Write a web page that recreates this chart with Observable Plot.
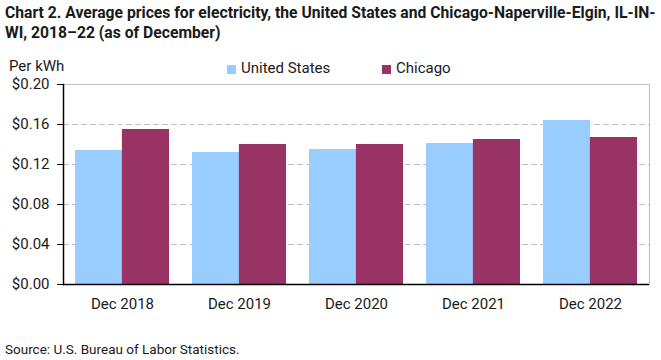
<!DOCTYPE html>
<html>
<head>
<meta charset="utf-8">
<script src="https://cdn.jsdelivr.net/npm/d3@7"></script>
<script src="https://cdn.jsdelivr.net/npm/@observablehq/plot@0.6"></script>
<style>
  body { margin: 0; background: #fff; font-family: Roboto, "Liberation Sans", sans-serif; color: #1a1a1a; }
  #wrap { position: relative; width: 661px; height: 360px; }
  #title { position: absolute; left: 5px; top: 3px; font-weight: bold; font-size: 15.7px; line-height: 20px; white-space: nowrap; }
  #unit { position: absolute; left: 9px; top: 57px; font-size: 15px; }
  .lg { position: absolute; top: 59px; font-size: 15px; }
  .sw { position: absolute; top: 65px; width: 9px; height: 9px; }
  #chart { position: absolute; left: 0; top: 66px; }
  #source { position: absolute; left: 5px; top: 341px; font-size: 13.5px; }
</style>
</head>
<body>
<div id="wrap">
  <div id="title">Chart 2. Average prices for electricity, the United States and Chicago-Naperville-Elgin, IL-IN-<br>WI, 2018–22 (as of December)</div>
  <div id="unit">Per kWh</div>
  <div id="legend"></div>
  <div id="chart"></div>
  <div id="source">Source: U.S. Bureau of Labor Statistics.</div>
</div>
<script>
const periods = ["Dec 2018", "Dec 2019", "Dec 2020", "Dec 2021", "Dec 2022"];
const seriesNames = ["United States", "Chicago"];
const usValues = [0.134, 0.132, 0.135, 0.141, 0.164];
const chicagoValues = [0.155, 0.140, 0.140, 0.145, 0.147];
const seriesColors = ["#99ccff", "#993366"];
const yTicks = [0, 0.04, 0.08, 0.12, 0.16, 0.20];

const usRows = periods.map((p, i) => ({period: p, series: seriesNames[0], value: usValues[i]}));
const chiRows = periods.map((p, i) => ({period: p, series: seriesNames[1], value: chicagoValues[i]}));

// legend (HTML, beside the unit label)
const legendPos = [[227, 241], [382, 396]];
const legend = document.getElementById("legend");
seriesNames.forEach((s, i) => {
  const sw = document.createElement("div");
  sw.className = "sw";
  sw.style.left = legendPos[i][0] + "px";
  sw.style.background = seriesColors[i];
  const t = document.createElement("div");
  t.className = "lg";
  t.style.left = legendPos[i][1] + "px";
  t.textContent = s;
  legend.appendChild(sw);
  legend.appendChild(t);
});

const W = 661, ML = 63, MR = 12;
const paddingInner = 0.2, paddingOuter = 0.1;
const step = (W - ML - MR) / (periods.length - paddingInner + 2 * paddingOuter);
const half = step * (1 - paddingInner) / 2;

const chart = Plot.plot({
  width: W,
  height: 270,
  marginTop: 18,
  marginLeft: ML,
  marginRight: MR,
  marginBottom: 52,
  style: {fontFamily: "Roboto, 'Liberation Sans', sans-serif", fontSize: "15px", color: "#1a1a1a", overflow: "visible"},
  x: {domain: periods, paddingInner, paddingOuter, label: null, axis: null},
  y: {domain: [0, 0.20], label: null, axis: null},
  color: {domain: seriesNames, range: seriesColors},
  marks: [
    Plot.ruleY(yTicks.slice(1, -1), {stroke: "#bfbfbf", strokeDasharray: "6,3", strokeWidth: 1}),
    Plot.frame({stroke: "#bfbfbf"}),
    Plot.barY(usRows, {x: "period", y: "value", fill: "series", insetRight: half}),
    Plot.barY(chiRows, {x: "period", y: "value", fill: "series", insetLeft: half}),
    Plot.ruleY([0], {stroke: "black", strokeWidth: 1.5}),
    Plot.frame({anchor: "left", stroke: "black", strokeWidth: 1.5}),
    Plot.axisY({ticks: yTicks, tickFormat: d3.format("$.2f"), tickSize: 6, tickPadding: 8, fontSize: 15, label: null, stroke: "black"}),
    Plot.axisX({tickSize: 0, tickPadding: 14, fontSize: 15, label: null})
  ]
});
document.getElementById("chart").appendChild(chart);
</script>
</body>
</html>
